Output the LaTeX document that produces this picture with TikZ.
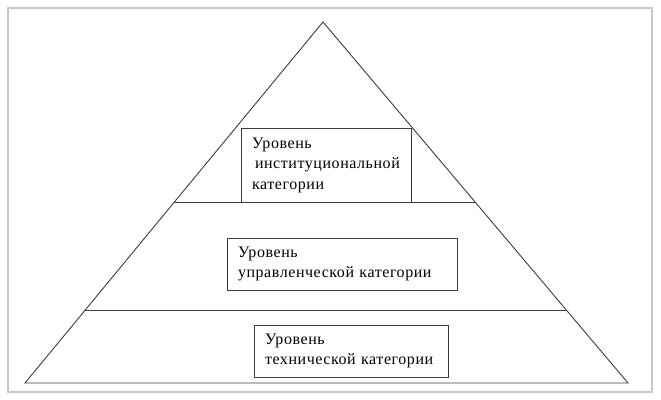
\documentclass[tikz,border=0pt]{standalone}
\usepackage{fontspec}
\setmainfont{Liberation Serif}
\definecolor{linegray}{RGB}{60,60,60}
\definecolor{framegray}{RGB}{200,200,200}
\tikzset{
  level/.style={draw=linegray, line width=0.9pt, fill=white, align=left,
    font=\fontsize{16}{20.5}\selectfont\addfontfeature{LetterSpace=3.5},
    inner xsep=11pt, inner ysep=0pt}
}
\begin{document}
\begin{tikzpicture}[x=1pt, y=-1pt]
			\useasboundingbox (0,0) rectangle (661,399);
			\draw[framegray, line width=1.2pt] (8,8) rectangle (652,392);

			% pyramid with two cuts
			\coordinate (top) at (323,22);
			\coordinate (bl) at (25,383);
			\coordinate (br) at (628,383);
			\draw[linegray, line width=0.9pt] (top) -- (bl) -- (br) -- cycle;
			\draw[linegray, line width=0.9pt]
			(174.5,202) -- (475,202)
			(85,310) -- (566,310);

			\node[level, text width=148pt, minimum height=74pt] (inst) at (326,165)
			{Уровень\\\mbox{\hspace{3pt}институциональной}\\категории};
			\node[level, text width=208pt, minimum height=52pt] (upr) at (342,264)
			{Уровень\\управленческой категории};
			\node[level, text width=172pt, minimum height=52pt] (tech) at (351,351)
			{Уровень\\технической категории};
		\end{tikzpicture}
\end{document}
